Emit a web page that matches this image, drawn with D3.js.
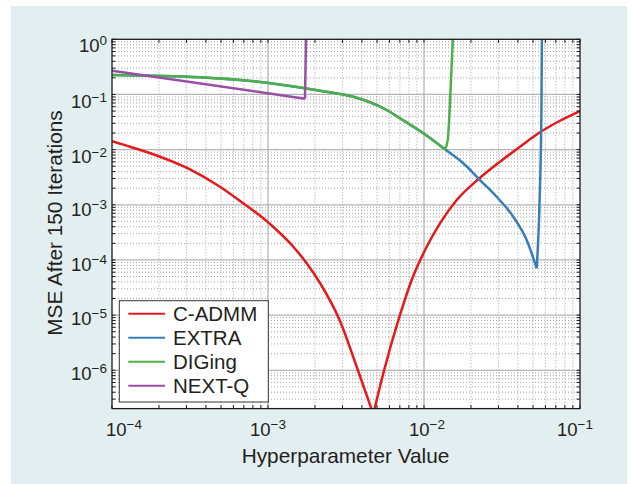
<!DOCTYPE html>
<html><head><meta charset="utf-8">
<script src="https://cdn.jsdelivr.net/npm/d3@7"></script>
<style>
html,body{margin:0;padding:0;background:#fff;}
text{font-family:"Liberation Sans",Arial,Helvetica,sans-serif;fill:#231f20;}
</style></head>
<body><svg id="c" width="632" height="484"></svg>
<script>
// ---- data ----
const seriesNames = ["C-ADMM", "EXTRA", "DIGing", "NEXT-Q"];
const seriesColors = ["#e41a1c", "#377eb8", "#4daf4a", "#984ea3"];

const cadmmX = [1e-4, 1.304e-4, 2.031e-4, 3.162e-4, 4.923e-4, 6.945e-4, 9.33e-4, 1.137e-3, 1.453e-3, 1.770e-3, 2.154e-3, 2.894e-3, 3.703e-3, 4.732e-3, 5.484e-3, 7.017e-3, 8.341e-3, 1.041e-2, 1.266e-2, 1.621e-2, 2.229e-2, 3.07e-2, 4.124e-2, 5.541e-2, 7.44e-2, 1e-1];
const cadmmY = [1.422e-2, 1.130e-2, 7.44e-3, 4.40e-3, 2.13e-3, 1.064e-3, 5.69e-4, 3.49e-4, 1.738e-4, 8.69e-5, 3.82e-5, 7.82e-6, 1.16e-6, 1.6e-7, 8.81e-7, 1.005e-5, 4.33e-5, 1.738e-4, 4.61e-4, 1.221e-3, 2.897e-3, 6.04e-3, 1.130e-2, 2.06e-2, 3.34e-2, 5.01e-2];

const extraX = [1e-4, 3.66e-4, 9.81e-4, 2.154e-3, 3.52e-3, 5.77e-3, 7.017e-3, 9.90e-3, 1.363e-2, 1.786e-2, 2.285e-2, 2.92e-2, 3.736e-2, 4.55e-2, 5.277e-2, 5.52e-2, 5.66e-2, 5.70e-2];
const extraY = [0.2254, 0.2047, 0.1634, 0.117, 0.0910, 0.0523, 0.0370, 0.01977, 0.01014, 5.65e-3, 2.81e-3, 1.40e-3, 6.08e-4, 2.30e-4, 7.05e-5, 1.5e-3, 0.05, 1.3];

const digingX = [1e-4, 3.66e-4, 9.81e-4, 2.154e-3, 3.52e-3, 5.77e-3, 7.017e-3, 9.90e-3, 1.363e-2, 1.42e-2, 1.44e-2, 1.47e-2, 1.535e-2];
const digingY = [0.2254, 0.2047, 0.1634, 0.117, 0.0910, 0.0523, 0.0370, 0.01977, 0.01014, 0.015, 0.025, 0.08, 1.2];

const nextqX = [1e-4, 1.726e-3, 1.755e-3];
const nextqY = [0.27, 0.084, 1.2];

const xTickValues = [1e-4, 1e-3, 1e-2, 1e-1];
const xTickExps = ["−4", "−3", "−2", "−1"];
const yTickValues = [1, 1e-1, 1e-2, 1e-3, 1e-4, 1e-5, 1e-6];
const yTickExps = ["0", "−1", "−2", "−3", "−4", "−5", "−6"];
const xLabel = "Hyperparameter Value";
const yLabel = "MSE After 150 Iterations";

// ---- layout ----
const svg = d3.select("#c");
const L = 112, T = 39.3, R = 580, B = 408.6;
const x = d3.scaleLog().domain([1e-4, 1e-1]).range([L, R]);
const y = d3.scaleLog().domain([2.02e-7, 1]).range([B, T]);

svg.append("rect").attr("x", 11).attr("y", 6).attr("width", 616).attr("height", 478).attr("fill", "#e3eef0");
svg.append("rect").attr("x", L).attr("y", T).attr("width", R - L).attr("height", B - T).attr("fill", "#fff");

// minor ticks
const xMinor = [], yMinor = [];
for (let d = -4; d <= -2; d++) for (let m = 2; m <= 9; m++) xMinor.push(m * Math.pow(10, d));
for (let d = -7; d <= -1; d++) for (let m = 2; m <= 9; m++) { const v = m * Math.pow(10, d); if (v >= 2.02e-7 && v < 1) yMinor.push(v); }

const grid = svg.append("g");
grid.selectAll(".mx").data(xMinor).enter().append("line")
  .attr("x1", d => x(d)).attr("x2", d => x(d)).attr("y1", T).attr("y2", B)
  .attr("stroke", "#8c8c8c").attr("stroke-width", 0.8).attr("stroke-dasharray", "1,2");
grid.selectAll(".my").data(yMinor).enter().append("line")
  .attr("y1", d => y(d)).attr("y2", d => y(d)).attr("x1", L).attr("x2", R)
  .attr("stroke", "#8c8c8c").attr("stroke-width", 0.8).attr("stroke-dasharray", "1,2");
grid.selectAll(".Mx").data(xTickValues.slice(1, -1)).enter().append("line")
  .attr("x1", d => x(d)).attr("x2", d => x(d)).attr("y1", T).attr("y2", B)
  .attr("stroke", "#b4b4b4").attr("stroke-width", 1.3);
grid.selectAll(".My").data(yTickValues.slice(1)).enter().append("line")
  .attr("y1", d => y(d)).attr("y2", d => y(d)).attr("x1", L).attr("x2", R)
  .attr("stroke", "#b4b4b4").attr("stroke-width", 1.3);

// curves
svg.append("clipPath").attr("id", "clip").append("rect")
  .attr("x", L).attr("y", T).attr("width", R - L).attr("height", B - T);
const series = [[cadmmX, cadmmY], [extraX, extraY], [digingX, digingY], [nextqX, nextqY]];
const line = d3.line().x(d => x(d[0])).y(d => y(d[1])).curve(d3.curveMonotoneX);
const cg = svg.append("g").attr("clip-path", "url(#clip)");
series.forEach((s, i) => {
  const pts = s[0].map((v, k) => [v, s[1][k]]);
  const mi = d3.minIndex(pts, p => p[1]);
  const parts = [pts.slice(0, mi + 1), pts.slice(mi)].filter(p => p.length > 1);
  const path = parts.map(p => line(p)).join("");
  cg.append("path").attr("d", path).attr("fill", "none")
    .attr("stroke", seriesColors[i]).attr("stroke-width", 2.5).attr("stroke-linejoin", "round");
});

// axes box and ticks
const ax = svg.append("g").attr("stroke", "#1a1a1a").attr("stroke-width", 1);
const tl = 3.5;
[...xTickValues, ...xMinor].forEach(v => {
  ax.append("line").attr("x1", x(v)).attr("x2", x(v)).attr("y1", B).attr("y2", B - tl);
  ax.append("line").attr("x1", x(v)).attr("x2", x(v)).attr("y1", T).attr("y2", T + tl);
});
[...yTickValues, ...yMinor].forEach(v => {
  ax.append("line").attr("y1", y(v)).attr("y2", y(v)).attr("x1", L).attr("x2", L + tl);
  ax.append("line").attr("y1", y(v)).attr("y2", y(v)).attr("x1", R).attr("x2", R - tl);
});
svg.append("rect").attr("x", L).attr("y", T).attr("width", R - L).attr("height", B - T)
  .attr("fill", "none").attr("stroke", "#1a1a1a").attr("stroke-width", 1.3);

// x tick labels
const xShift = [12, 0, 3, -5];
xTickValues.forEach((v, i) => {
  const t = svg.append("text").attr("x", x(v) + xShift[i]).attr("y", 436)
    .attr("text-anchor", "middle").style("font-size", "18.5px");
  t.append("tspan").text("10");
  t.append("tspan").attr("dy", -6.7).style("font-size", "13.5px").text(xTickExps[i]);
});
// y tick labels
const yShift = [12.4, 14, 13.6, 10.8, 11, 9.7, 9.7];
yTickValues.forEach((v, i) => {
  const t = svg.append("text").attr("x", 107).attr("y", y(v) + yShift[i])
    .attr("text-anchor", "end").style("font-size", "18.5px");
  t.append("tspan").text("10");
  t.append("tspan").attr("dy", -6.7).style("font-size", "13.5px").text(yTickExps[i]);
});

// axis labels
svg.append("text").attr("x", 345.5).attr("y", 463.3).attr("text-anchor", "middle")
  .style("font-size", "20.8px").text(xLabel);
svg.append("text").attr("transform", "translate(61.5,223) rotate(-90)").attr("text-anchor", "middle")
  .style("font-size", "20.8px").text(yLabel);

// legend
const lg = svg.append("g");
lg.append("rect").attr("x", 119.3).attr("y", 300.7).attr("width", 149).attr("height", 101.3)
  .attr("fill", "#fff").attr("stroke", "#333").attr("stroke-width", 1);
seriesNames.forEach((n, i) => {
  lg.append("line").attr("x1", 128.3).attr("x2", 165).attr("y1", 313.7 + 24 * i).attr("y2", 313.7 + 24 * i)
    .attr("stroke", seriesColors[i]).attr("stroke-width", 2);
  lg.append("text").attr("x", 173).attr("y", 320.7 + 24 * i).style("font-size", "20.5px").text(n);
});
</script></body></html>
